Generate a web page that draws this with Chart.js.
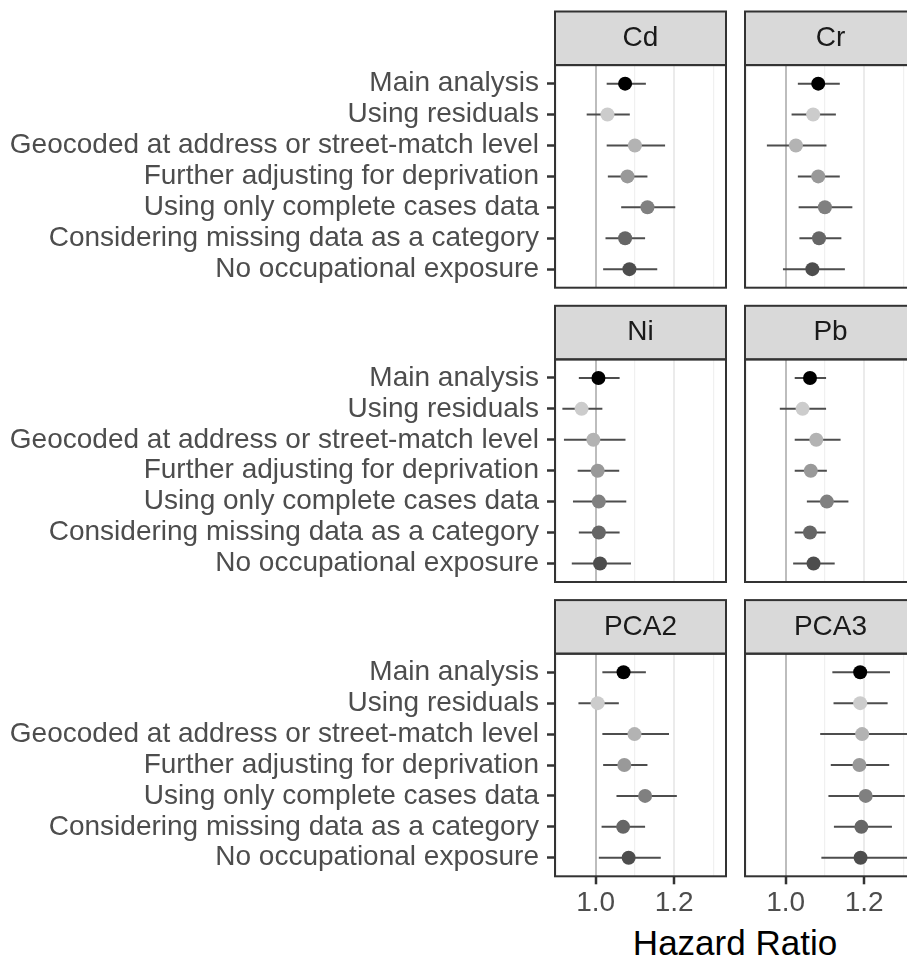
<!DOCTYPE html>
<html><head><meta charset="utf-8">
<script src="https://cdn.jsdelivr.net/npm/chart.js@4.4.1/dist/chart.umd.min.js"></script>
<style>
html,body{margin:0;padding:0;background:#fff;overflow:hidden;}
#wrap{position:relative;width:907px;height:958px;overflow:hidden;background:#fff;}
#wrap canvas{position:absolute;}
#xtitle{position:absolute;left:535px;width:400px;top:923px;height:40px;line-height:40px;text-align:center;font-family:"Liberation Sans",Arial,Helvetica,sans-serif;font-size:35px;color:#000;white-space:nowrap;}
</style></head><body>
<div id="wrap"><div id="xtitle">Hazard Ratio</div></div>
<script>
// ---------- data ----------
const analyses = [
  'Main analysis',
  'Using residuals',
  'Geocoded at address or street-match level',
  'Further adjusting for deprivation',
  'Using only complete cases data',
  'Considering missing data as a category',
  'No occupational exposure'
];
const panelNames = ['Cd', 'Cr', 'Ni', 'Pb', 'PCA2', 'PCA3'];

const Cd_hr = [1.075, 1.030, 1.100, 1.081, 1.132, 1.075, 1.086];
const Cd_lo = [1.028, 0.977, 1.028, 1.031, 1.065, 1.025, 1.019];
const Cd_hi = [1.128, 1.087, 1.177, 1.132, 1.203, 1.126, 1.157];

const Cr_hr = [1.083, 1.070, 1.026, 1.083, 1.100, 1.085, 1.068];
const Cr_lo = [1.031, 1.015, 0.952, 1.031, 1.033, 1.035, 0.993];
const Cr_hi = [1.138, 1.128, 1.104, 1.138, 1.170, 1.142, 1.151];

const Ni_hr = [1.007, 0.964, 0.994, 1.005, 1.008, 1.008, 1.011];
const Ni_lo = [0.957, 0.915, 0.919, 0.954, 0.942, 0.957, 0.939];
const Ni_hi = [1.061, 1.017, 1.076, 1.060, 1.078, 1.061, 1.090];

const Pb_hr = [1.062, 1.043, 1.078, 1.064, 1.105, 1.062, 1.071];
const Pb_lo = [1.023, 0.985, 1.023, 1.023, 1.054, 1.023, 1.019];
const Pb_hi = [1.103, 1.103, 1.140, 1.105, 1.160, 1.102, 1.125];

const PCA2_hr = [1.071, 1.005, 1.099, 1.073, 1.126, 1.070, 1.084];
const PCA2_lo = [1.017, 0.956, 1.017, 1.019, 1.053, 1.015, 1.008];
const PCA2_hi = [1.128, 1.059, 1.187, 1.132, 1.207, 1.126, 1.166];

const PCA3_hr = [1.190, 1.190, 1.195, 1.188, 1.204, 1.193, 1.191];
const PCA3_lo = [1.119, 1.122, 1.088, 1.115, 1.109, 1.123, 1.091];
const PCA3_hi = [1.266, 1.260, 1.315, 1.264, 1.304, 1.271, 1.310];

const xMajorBreaks = [1.0, 1.2];
const xMajorLabels = ['1.0', '1.2'];
const xMinorBreaks = [0.9, 1.1, 1.3];
const refLine = 1.0;

// ---------- styles / layout ----------
const pointColors = ['#000000', '#cccccc', '#b3b3b3', '#999999', '#808080', '#666666', '#4d4d4d'];
const FONT = '"Liberation Sans", Arial, Helvetica, sans-serif';
const FS = 28;
const stripTop0 = 11.5, rowStep = 294.3, stripH = 53.6, panelH = 222.6, panelW = 171;
const xMin = 1 - 40.7 / 392, xMax = xMin + panelW / 392;
const near = (a, b) => Math.abs(a - b) < 1e-6;

const panels = [
  {name: panelNames[0], hr: Cd_hr, lo: Cd_lo, hi: Cd_hi},
  {name: panelNames[1], hr: Cr_hr, lo: Cr_lo, hi: Cr_hi},
  {name: panelNames[2], hr: Ni_hr, lo: Ni_lo, hi: Ni_hi},
  {name: panelNames[3], hr: Pb_hr, lo: Pb_lo, hi: Pb_hi},
  {name: panelNames[4], hr: PCA2_hr, lo: PCA2_lo, hi: PCA2_hi},
  {name: panelNames[5], hr: PCA3_hr, lo: PCA3_lo, hi: PCA3_hi}
];

const facetPlugin = {
  id: 'facet',
  beforeDraw(chart) {
    const {ctx, chartArea: a} = chart;
    ctx.save();
    ctx.fillStyle = '#ffffff';
    ctx.fillRect(a.left, a.top, a.width, a.height);
    ctx.fillStyle = '#d9d9d9';
    ctx.fillRect(a.left, a.top - stripH, a.width, stripH);
    ctx.restore();
  },
  afterDraw(chart) {
    const {ctx, chartArea: a} = chart;
    ctx.save();
    ctx.strokeStyle = '#333333';
    ctx.lineWidth = 2;
    ctx.strokeRect(a.left, a.top - stripH, a.width, stripH);
    ctx.strokeRect(a.left, a.top, a.width, a.height);
    ctx.restore();
  }
};

const wrap = document.getElementById('wrap');

panels.forEach((p, idx) => {
  const row = Math.floor(idx / 2), col = idx % 2;
  const bottom = row === 2;
  const canvasTop = Math.round(row * rowStep);
  const padTop = stripTop0 + row * rowStep - canvasTop;
  const axisH = bottom ? (8 + 2 + FS * 1.2) : 0;
  const height = Math.ceil(padTop + stripH + panelH + axisH + 2);
  const padBottom = height - (padTop + stripH + panelH + axisH);
  const left = col === 0 ? 0 : 740;
  const width = col === 0 ? 730 : 179;
  const padLeft = col === 0 ? 0 : 5;
  const padRight = col === 0 ? 4 : 3;

  const cv = document.createElement('canvas');
  cv.width = width; cv.height = height;
  cv.style.left = left + 'px'; cv.style.top = canvasTop + 'px';
  cv.style.width = width + 'px'; cv.style.height = height + 'px';
  wrap.appendChild(cv);

  const datasets = [{
    data: p.hr.map((v, i) => ({x: v, y: i})),
    pointRadius: 7, pointHoverRadius: 7,
    pointBackgroundColor: pointColors, pointBorderColor: pointColors,
    pointBorderWidth: 0, showLine: false
  }].concat(analyses.map((a, i) => ({
    data: [{x: p.lo[i], y: i}, {x: p.hi[i], y: i}],
    showLine: true, borderColor: '#4d4d4d', borderWidth: 2,
    pointRadius: 0, pointHoverRadius: 0
  })));

  const yScale = {
    type: 'linear', min: -0.6, max: 6.6, reverse: true,
    afterBuildTicks: s => { s.ticks = analyses.map((_, i) => ({value: i})); }
  };
  if (col === 0) {
    Object.assign(yScale, {
      display: true,
      afterFit: s => { s.width = 555; s.paddingTop = 0; s.paddingBottom = 0; },
      ticks: {autoSkip: false, padding: 8, color: '#4d4d4d', font: {family: FONT, size: FS},
              callback: v => analyses[v]},
      grid: {drawOnChartArea: false, drawTicks: true, tickLength: 8, tickColor: '#333333', tickWidth: 2.5},
      border: {display: false}
    });
  } else {
    yScale.display = false;
  }

  const isMajor = v => xMajorBreaks.some(b => near(b, v));
  const xScale = {
    type: 'linear', min: xMin, max: xMax,
    afterBuildTicks: s => {
      s.ticks = xMinorBreaks.concat(xMajorBreaks).sort((a, b) => a - b).map(v => ({value: v}));
    },
    afterFit: s => { s.paddingLeft = 0; s.paddingRight = 0; s.height = axisH; },
    ticks: {
      display: bottom, autoSkip: false, maxRotation: 0, padding: 2,
      color: '#4d4d4d', font: {family: FONT, size: FS},
      callback: v => { const k = xMajorBreaks.findIndex(b => near(b, v)); return k >= 0 ? xMajorLabels[k] : ''; }
    },
    grid: {
      drawOnChartArea: true,
      drawTicks: bottom, tickLength: 8, tickWidth: 2.5,
      color: c => near(c.tick.value, refLine) ? '#bdbdbd' : (isMajor(c.tick.value) ? '#ebebeb' : '#f0f0f0'),
      lineWidth: c => near(c.tick.value, refLine) ? 2 : (isMajor(c.tick.value) ? 2 : 1.2),
      tickColor: c => isMajor(c.tick.value) ? '#333333' : 'rgba(0,0,0,0)'
    },
    border: {display: false}
  };

  new Chart(cv, {
    type: 'scatter',
    data: {datasets},
    options: {
      responsive: false, animation: false, devicePixelRatio: 1,
      layout: {autoPadding: false, padding: {top: padTop, bottom: padBottom, left: padLeft, right: padRight}},
      scales: {x: xScale, y: yScale},
      plugins: {
        legend: {display: false}, tooltip: {enabled: false},
        title: {
          display: true, text: p.name, position: 'top', fullSize: false,
          color: '#1a1a1a', font: {family: FONT, size: FS, weight: 'normal', lineHeight: 1.2},
          padding: {top: (stripH - FS * 1.2) / 2, bottom: (stripH - FS * 1.2) / 2}
        }
      },
      events: []
    },
    plugins: [facetPlugin]
  });
});
</script>
</body></html>
